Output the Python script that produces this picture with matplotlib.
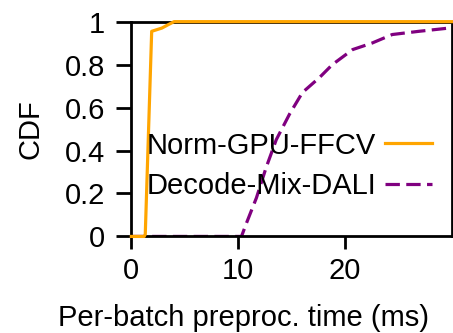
import matplotlib
matplotlib.use("Agg")
import matplotlib.pyplot as plt

plt.rcParams["font.family"] = ["Liberation Sans", "DejaVu Sans"]

# CDF points
ffcv_x = [0, 1.2, 1.3, 1.9, 2.85, 3.45, 4.0, 30]
ffcv_y = [0, 0.0, 0.01, 0.955, 0.97, 0.986, 1.0, 1.0]

dali_x = [0, 10.3, 10.75, 11.7, 12.6, 13.55, 14.8, 16.0, 17.6, 18.8, 20.7, 22.5, 24.4, 26.9, 29.7, 30]
dali_y = [0, 0.0, 0.06, 0.18, 0.32, 0.45, 0.57, 0.67, 0.74, 0.80, 0.87, 0.90, 0.94, 0.955, 0.97, 0.972]

xticks = [0, 10, 20]
yticks = [0, 0.2, 0.4, 0.6, 0.8, 1]
ytick_labels = ["0", "0.2", "0.4", "0.6", "0.8", "1"]

fig, ax = plt.subplots(figsize=(4.53, 3.33), dpi=100)
fig.subplots_adjust(left=0.29, right=0.998, top=0.935, bottom=0.29)

ax.plot(ffcv_x, ffcv_y, color="orange", lw=2.3, label="Norm-GPU-FFCV", clip_on=False, zorder=3)
ax.plot(dali_x, dali_y, color="purple", lw=2.3, ls=(0, (4.5, 2)), label="Decode-Mix-DALI", zorder=2)

ax.set_xlim(0, 30)
ax.set_ylim(0, 1)
ax.set_xticks(xticks)
ax.set_yticks(yticks)
ax.set_yticklabels(ytick_labels)
ax.tick_params(labelsize=21, width=2, direction="out")
ax.tick_params(axis="y", length=11, pad=8)
ax.tick_params(axis="x", length=9, pad=6)
for s in ax.spines.values():
    s.set_linewidth(2)

ax.set_xlabel("Per-batch preproc. time (ms)", fontsize=21)
ax.xaxis.set_label_coords(0.35, -0.315)
ax.set_ylabel("CDF", fontsize=21)
ax.yaxis.set_label_coords(-0.27, 0.5)

ax.legend(loc="lower right", bbox_to_anchor=(1.0, 0.075), frameon=False,
          markerfirst=False, fontsize=21, handlelength=1.6,
          handletextpad=0.3, labelspacing=0.42, borderaxespad=0.3)

fig.savefig("out.png")
